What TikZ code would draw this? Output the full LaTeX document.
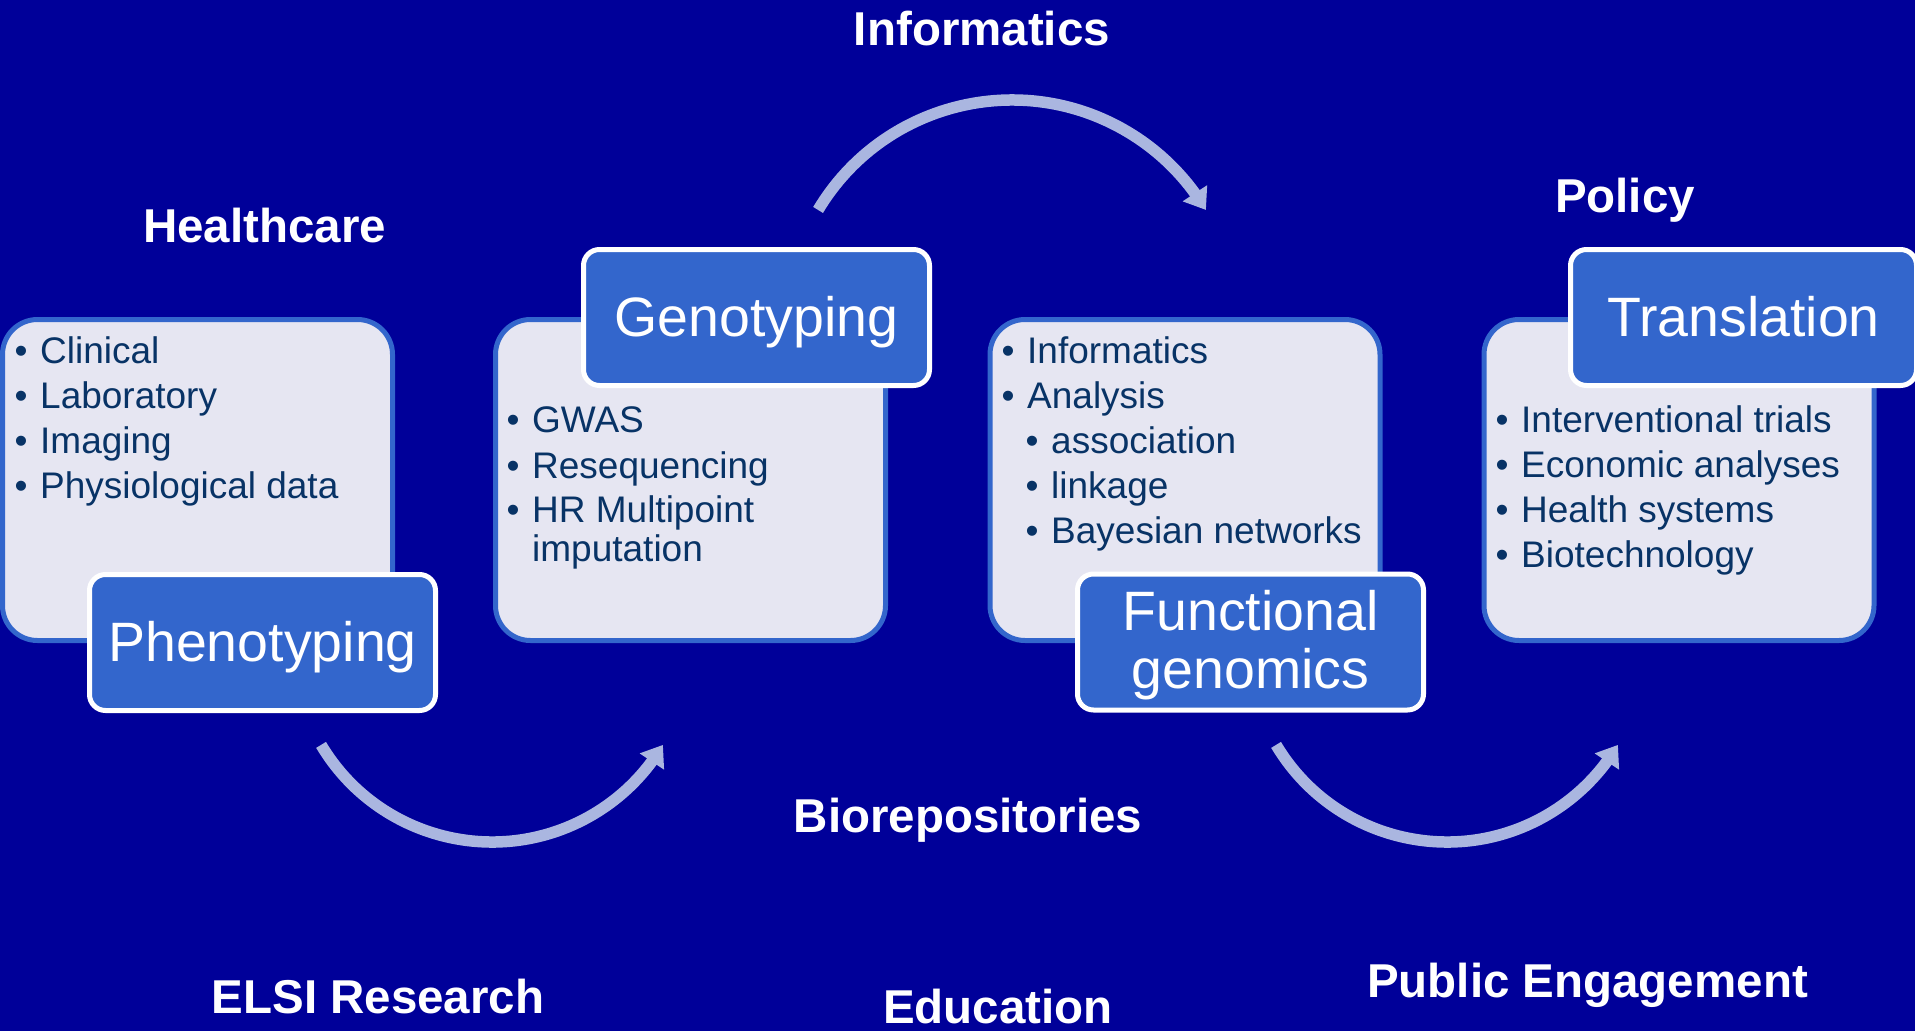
\documentclass[tikz,border=0pt]{standalone}
\usepackage{fontspec}
\setmainfont{Liberation Sans}
\usetikzlibrary{arrows.meta,bending}
\definecolor{bg}{RGB}{0,0,153}
\definecolor{darkbox}{RGB}{51,102,204}
\definecolor{lightbox}{RGB}{230,230,242}
\definecolor{listtext}{RGB}{8,51,102}
\definecolor{arrowc}{RGB}{170,182,224}
\newcommand{\bul}{\makebox[25.5pt][l]{•}}
\begin{document}
\begin{tikzpicture}[x=1pt,y=1pt,
  listbox/.style={draw=darkbox, fill=lightbox, line width=5pt, rounded corners=35pt, minimum width=390pt, minimum height=321pt, inner sep=0pt},
  stagebox/.style={draw=white, fill=darkbox, line width=5pt, rounded corners=16pt, minimum width=346pt, minimum height=136pt, inner sep=0pt, text=white, font=\fontsize{55.5}{58}\selectfont, align=center},
  oneline/.style={text height=37pt, text depth=0pt},
  listtxt/.style={anchor=base west, inner sep=0pt, text=listtext, font=\fontsize{37}{45}\selectfont},
  area/.style={anchor=base, inner sep=0pt, text=white, font=\fontsize{47.5}{57}\selectfont\bfseries},
  cyclearrow/.style={draw=arrowc, line width=11.5pt, -{Triangle[length=20pt,width=28pt]}}
]
\fill[bg] (0,0) rectangle (1915,-1031);
\useasboundingbox (0,0) rectangle (1915,-1031);

% light list boxes
\node[listbox] (hcbox) at (197.5,-480) {};
\node[listbox] (gtbox) at (690.5,-480) {};
\node[listbox] (fgbox) at (1185,-480) {};
\node[listbox] (trbox) at (1679,-480) {};

% list texts
\node[listtxt] (l11) at (14.5,-363) {\bul Clinical};
\node[listtxt] (l12) at (14.5,-408) {\bul Laboratory};
\node[listtxt] (l13) at (14.5,-453) {\bul Imaging};
\node[listtxt] (l14) at (14.5,-498) {\bul Physiological data};

\node[listtxt] (l21) at (506.5,-432) {\bul GWAS};
\node[listtxt] (l22) at (506.5,-478) {\bul Resequencing};
\node[listtxt] (l23) at (506.5,-522) {\bul HR Multipoint};
\node[listtxt] (l24) at (532,-561) {imputation};

\node[listtxt] (l31) at (1001.5,-363) {\bul Informatics};
\node[listtxt] (l32) at (1001.5,-408) {\bul Analysis};
\node[listtxt] (l33) at (1025.5,-453) {\bul association};
\node[listtxt] (l34) at (1025.5,-498) {\bul linkage};
\node[listtxt] (l35) at (1025.5,-543) {\bul Bayesian networks};

\node[listtxt] (l41) at (1495.5,-432) {\bul Interventional trials};
\node[listtxt] (l42) at (1495.5,-477) {\bul Economic analyses};
\node[listtxt] (l43) at (1495.5,-522) {\bul Health systems};
\node[listtxt] (l44) at (1495.5,-567) {\bul Biotechnology};

% stage boxes
\node[stagebox, oneline] (pheno) at (262.5,-642.5) {Phenotyping};
\node[stagebox, oneline] (geno) at (756.5,-317.5) {Genotyping};
\node[stagebox] (func) at (1250.5,-642) {\rule{0pt}{46pt}Functional\\genomics};
\node[stagebox, oneline] (trans) at (1743.5,-317.5) {Translation};

% area labels
\node[area] (informatics) at (982,-45) {Informatics};
\node[area] (healthcare) at (264.5,-242) {Healthcare};
\node[area] (policy) at (1625,-212) {Policy};
\node[area] (biorep) at (968,-832) {Biorepositories};
\node[area] (elsi) at (378,-1013) {ELSI Research};
\node[area] (education) at (998,-1023) {Education};
\node[area] (public) at (1587.5,-997) {Public Engagement};

% cycle arrows
\coordinate (a1c) at (492,-643);
\coordinate (a2c) at (1012,-326);
\coordinate (a3c) at (1447,-643);
\draw[cyclearrow] ([shift={(210.8:199)}]a1c) arc[start angle=210.8, end angle=329.2, radius=199pt];
\draw[cyclearrow] ([shift={(149.1:226)}]a2c) arc[start angle=149.1, end angle=30.9, radius=226pt];
\draw[cyclearrow] ([shift={(210.8:199)}]a3c) arc[start angle=210.8, end angle=329.2, radius=199pt];
\end{tikzpicture}
\end{document}
